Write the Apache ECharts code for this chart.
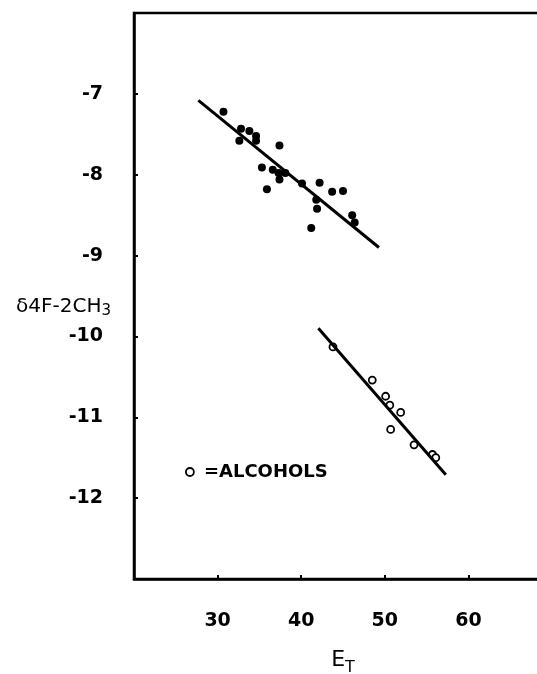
<!DOCTYPE html>
<html><head><meta charset="utf-8">
<script src="https://cdn.jsdelivr.net/npm/echarts@6/dist/echarts.min.js"></script>
<style>html,body{margin:0;padding:0;background:#fff}#c{width:537px;height:674px}</style>
</head><body><div id="c"></div>
<script>
// Filled points (non-alcohol solvents): [ET, delta]
const solventPoints = [
  [30.7,-7.22],[32.8,-7.43],[33.8,-7.46],[34.6,-7.52],[32.6,-7.58],[34.6,-7.58],
  [37.4,-7.64],[35.3,-7.91],[36.6,-7.94],[37.4,-8.06],[37.3,-7.98],[38.1,-7.98],
  [35.9,-8.18],[40.1,-8.11],[42.2,-8.10],[43.7,-8.21],[45.0,-8.20],[41.8,-8.31],
  [41.9,-8.42],[41.2,-8.66],[46.1,-8.50],[46.4,-8.59]
];
// Open points (alcohols)
const alcoholPoints = [
  [43.8,-10.13],[48.5,-10.54],[50.1,-10.74],[50.6,-10.85],[51.9,-10.94],
  [50.7,-11.15],[53.5,-11.34],[55.7,-11.46],[56.1,-11.50]
];
// Fitted lines
const solventLine = [[27.7,-7.08],[49.3,-8.90]];
const alcoholLine = [[42.05,-9.90],[57.3,-11.71]];
const xTicks = [30,40,50,60];
const yTicks = [-7,-8,-9,-10,-11,-12];

const FONT = 'DejaVu Sans';
const chart = echarts.init(document.getElementById('c'), null, {renderer:'canvas'});
chart.setOption({
  animation:false,
  backgroundColor:'#fff',
  grid:{left:134, top:13, width:418, height:566, outerBoundsMode:'none', containLabel:false,
    show:true, borderColor:'#000', borderWidth:2.5, backgroundColor:'transparent'},
  legend:{
    left:180, top:458, icon:'circle', itemWidth:8, itemHeight:8, itemGap:0,
    data:['ALCOHOLS'],
    formatter:function(n){return '='+n;},
    textStyle:{fontFamily:FONT, fontWeight:'bold', fontSize:18, color:'#000', padding:[0,0,0,5]},
    itemStyle:{color:'#fff', borderColor:'#000', borderWidth:1.8, opacity:1}
  },
  xAxis:{
    type:'value', min:20, max:70, interval:10,
    axisLine:{show:true, lineStyle:{color:'#000', width:2.5}},
    axisTick:{show:true, inside:true, length:4, lineStyle:{color:'#000', width:2}},
    splitLine:{show:false},
    axisLabel:{margin:33, fontFamily:FONT, fontWeight:'bold', fontSize:19, color:'#000',
      formatter:function(v){return xTicks.indexOf(v)>=0 ? String(v) : '';}},
    name:'{a|E}{b|T}', nameLocation:'middle', nameGap:66, nameMoveOverlap:false,
    nameTextStyle:{rich:{
      a:{fontFamily:FONT, fontSize:22, color:'#000', lineHeight:26, verticalAlign:'bottom'},
      b:{fontFamily:FONT, fontSize:16, color:'#000', lineHeight:26, verticalAlign:'bottom', padding:[0,0,-5,0]}
    }}
  },
  yAxis:{
    type:'value', min:-13, max:-6, interval:1,
    axisLine:{show:true, lineStyle:{color:'#000', width:2.5}},
    axisTick:{show:true, inside:true, length:4, lineStyle:{color:'#000', width:2}},
    splitLine:{show:false},
    axisLabel:{margin:31, fontFamily:FONT, fontWeight:'bold', fontSize:19, color:'#000',
      formatter:function(v){return yTicks.indexOf(v)>=0 ? String(v) : '';}},
    name:'{a|δ4F-2CH}{b|3}', nameLocation:'middle', nameGap:23, nameRotate:0, nameMoveOverlap:false,
    nameTextStyle:{align:'right', padding:[22,0,0,0], rich:{
      a:{fontFamily:FONT, fontSize:20, color:'#000', lineHeight:24},
      b:{fontFamily:FONT, fontSize:15, color:'#000', lineHeight:24, padding:[8,0,0,0]}
    }}
  },
  series:[
    {type:'line', data:solventLine, symbol:'none', lineStyle:{color:'#000', width:3}, silent:true},
    {type:'line', data:alcoholLine, symbol:'none', lineStyle:{color:'#000', width:3}, silent:true},
    {name:'SOLVENTS', type:'scatter', data:solventPoints, symbol:'circle', symbolSize:8, itemStyle:{color:'#000', opacity:1}},
    {name:'ALCOHOLS', type:'scatter', data:alcoholPoints, symbol:'circle', symbolSize:7, itemStyle:{color:'#fff', borderColor:'#000', borderWidth:1.8, opacity:1}}
  ]
});
</script></body></html>
